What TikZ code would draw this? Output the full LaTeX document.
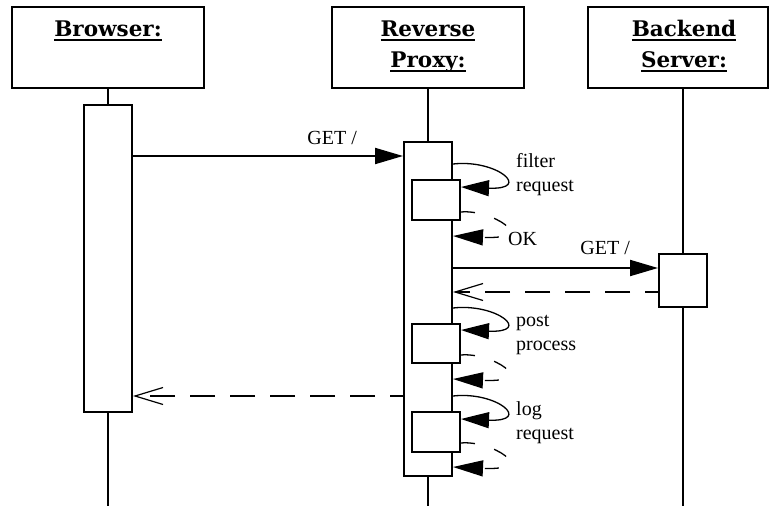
\documentclass[tikz,border=0pt]{standalone}
\usepackage{fontspec}
\setmainfont{Liberation Serif}
\newfontfamily\hdrfont{DejaVu Serif}
\usetikzlibrary{arrows.meta}

% underline drawn at a fixed depth below the baseline
\newcommand\hdrul[1]{\setbox0\hbox{#1}\rlap{\rule[-5pt]{\wd0}{2.5pt}}\box0}

\begin{document}
\begin{tikzpicture}[x=1pt,y=-1pt,
  obj/.style={draw, line width=2pt, fill=white, inner sep=0pt,
    minimum width=192pt, minimum height=81pt},
  act/.style={draw, line width=2pt, fill=white, inner sep=0pt, minimum width=48pt},
  life/.style={line width=2pt},
  call/.style={line width=2pt, -{Triangle[length=28pt,width=16pt]}},
  reply/.style={line width=2pt, dash pattern=on 25pt off 15pt, dash phase=12pt,
    -{Straight Barb[length=28pt,width=17pt,line width=1.2pt]}},
  selfcall/.style={line width=1.3pt, -{Triangle[length=28pt,width=16pt]}},
  selfreply/.style={line width=1.3pt, dash pattern=on 14pt off 20pt,
    -{Triangle[length=30pt,width=16pt]}},
  hdr/.style={font=\hdrfont\bfseries\fontsize{21.5}{31}\selectfont,
    inner sep=0pt, anchor=base, align=center},
  lbl/.style={font=\fontsize{20}{24}\selectfont, inner sep=0pt, align=left}]

\useasboundingbox (0,0) rectangle (770,506);

% object heads
\node[obj] (bh) at (108,47.5) {};
\node[obj] (ph) at (428,47.5) {};
\node[obj, minimum width=180pt] (sh) at (678,47.5) {};
% (base anchor of a multi-line node sits on its last line)
\node[hdr] (bt) at (108,36) {\hdrul{Browser:}};
\node[hdr] (pt) at (428,67) {\hdrul{Reverse}\\\hdrul{Proxy:}};
\node[hdr] (st) at (684,67) {\hdrul{Backend}\\\hdrul{Server:}};

% lifeline ends
\coordinate (bend) at (108,506);
\coordinate (pend) at (428,506);
\coordinate (send) at (683,506);

% activation bars
\node[act, minimum height=307pt] (ba) at (108,258.5) {};
\node[act, minimum height=334pt] (pa) at (428,309) {};
\node[act, minimum height=53pt] (sa) at (683,280.5) {};

% lifelines
\draw[life] (bh.south -| ba.north) -- (ba.north);
\draw[life] (ba.south) -- (bend);
\draw[life] (ph.south) -- (pa.north);
\draw[life] (pa.south) -- (pend);
\draw[life] (sh.south -| sa.north) -- (sa.north);
\draw[life] (sa.south) -- (send);

% nested activations on the proxy
\node[act, minimum height=40pt] (pf) at (436,200) {};
\node[act, minimum height=39pt] (pp) at (436,343.5) {};
\node[act, minimum height=40pt] (pl) at (436,432) {};

% browser -> proxy
\draw[call] (ba.east |- 0,156) -- (pa.west |- 0,156);
\node[lbl, anchor=base east] (g1) at (357,144) {GET /};

% filter request
\draw[selfcall] (pa.east |- 0,164) .. controls +(44,-5) and +(72,3) .. (pf.east |- 0,187);
\node[lbl, anchor=base west] (f1) at (516,191) {filter\\request};
\draw[selfreply] (pf.east |- 0,212) .. controls +(30,-3) and +(88,4) .. (pa.east |- 0,236);
\node[lbl, anchor=base west] (ok) at (508,245) {OK};

% proxy -> backend
\draw[call] (pa.east |- 0,268) -- (sa.west |- 0,268);
\node[lbl, anchor=base east] (g2) at (630,254) {GET /};
\draw[reply] (sa.west |- 0,292) -- (pa.east |- 0,292);

% post process
\draw[selfcall] (pa.east |- 0,308) .. controls +(44,-5) and +(72,3) .. (pp.east |- 0,330);
\node[lbl, anchor=base west] (f2) at (516,350) {post\\process};
\draw[selfreply] (pp.east |- 0,355) .. controls +(30,-3) and +(88,4) .. (pa.east |- 0,379);

% proxy -> browser
\draw[reply] (pa.west |- 0,396) -- (ba.east |- 0,396);

% log request
\draw[selfcall] (pa.east |- 0,396) .. controls +(44,-5) and +(72,3) .. (pl.east |- 0,419);
\node[lbl, anchor=base west] (f3) at (516,439) {log\\request};
\draw[selfreply] (pl.east |- 0,443) .. controls +(30,-3) and +(88,4) .. (pa.east |- 0,467);
\end{tikzpicture}
\end{document}
